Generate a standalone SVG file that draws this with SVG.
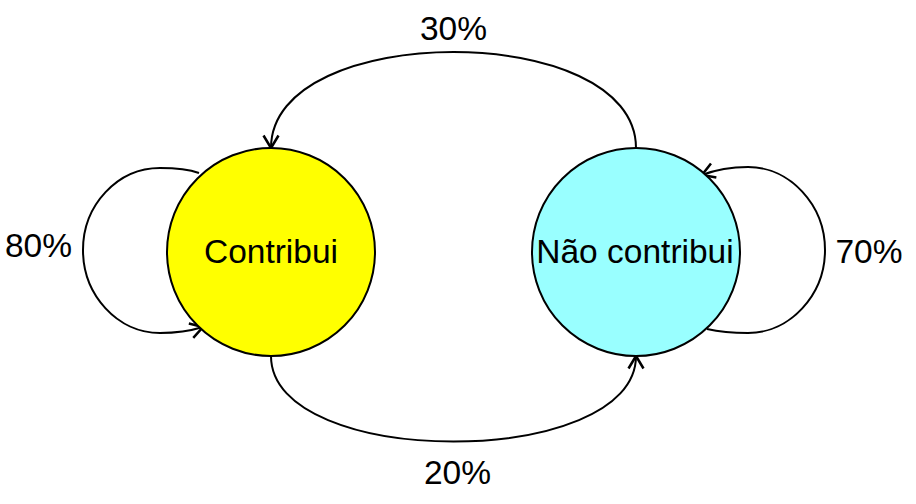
<svg xmlns="http://www.w3.org/2000/svg" width="916" height="504" viewBox="0 0 916 504">
<defs>
<marker id="arr" markerUnits="userSpaceOnUse" markerWidth="20" markerHeight="20" viewBox="-12 -8 14 16" refX="0" refY="0" orient="auto">
<path d="M-10,-6 L0,0 L-10,6" fill="none" stroke="#000" stroke-width="2"/>
</marker>
<style>
.n{stroke:#000;stroke-width:2}
.e{fill:none;stroke:#000;stroke-width:2;marker-end:url(#arr)}
text{font-family:"Liberation Sans",Arial,sans-serif;font-size:33.5px;fill:#000;text-anchor:middle}
</style>
</defs>
<g id="edges">
<path class="e" d="M199,173 C188,169 175,168 160,168 C117.5,168 83,205 83,250 C83,295 117.5,333 160,333 C175,333 190,331 203,327"/>
<path class="e" d="M707,329 C720,332 735,333 748,333 C790,333 825,295 825,250 C825,205 790,167 748,167 C730,167 715,170 702,175"/>
<path class="e" d="M636,148 C636,20 271,20 271,148"/>
<path class="e" d="M271,356 C271,470 636,470 636,356"/>
</g>
<g id="contribui">
<circle class="n" cx="271" cy="252" r="104" fill="#FFFF00"/>
<text x="271" y="263">Contribui</text>
</g>
<g id="nao-contribui">
<circle class="n" cx="636" cy="252" r="104" fill="#99FFFF"/>
<text x="635" y="263">Não contribui</text>
</g>
<g id="labels">
<text x="453.5" y="40">30%</text>
<text x="457.5" y="484">20%</text>
<text x="38.5" y="257">80%</text>
<text x="869" y="263">70%</text>
</g>
</svg>
